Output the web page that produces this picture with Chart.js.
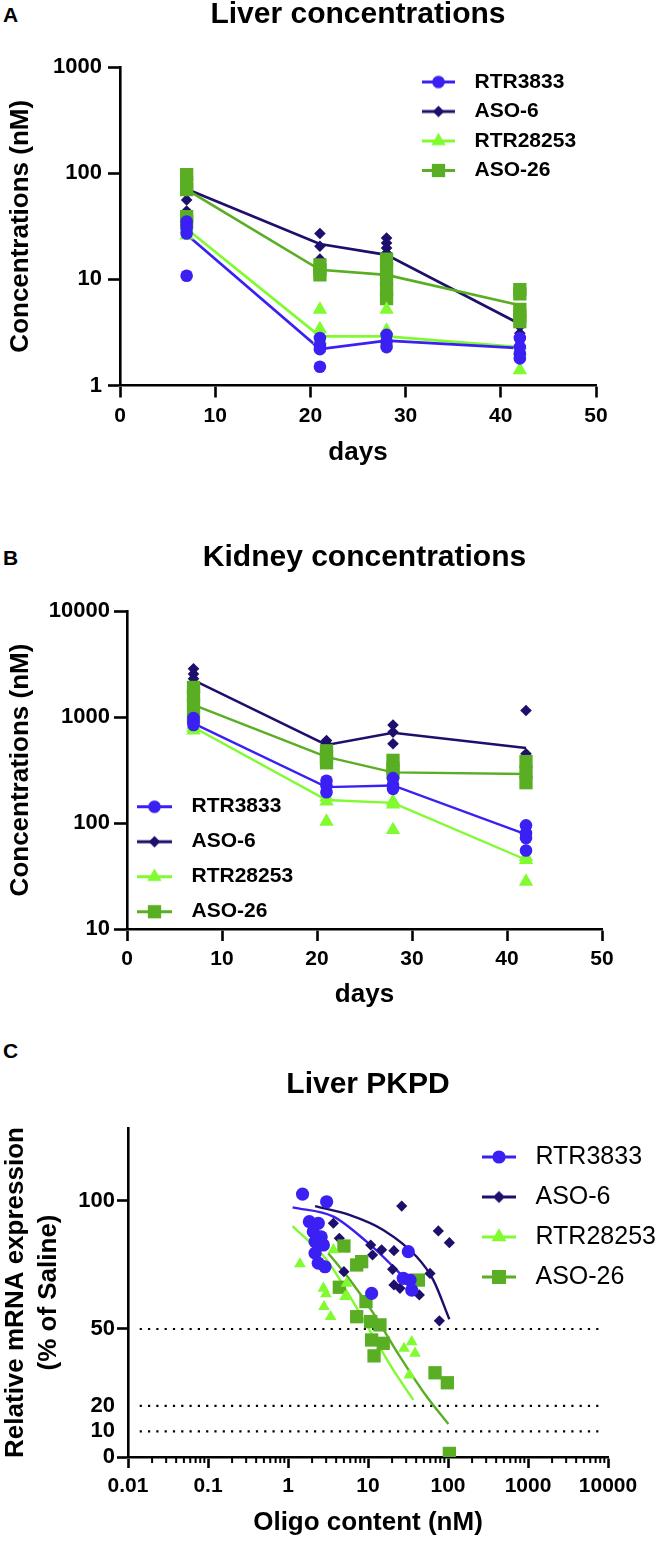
<!DOCTYPE html>
<html><head><meta charset="utf-8">
<script src="https://cdn.jsdelivr.net/npm/chart.js@4.4.1/dist/chart.umd.min.js"></script>
<style>
html,body{margin:0;padding:0;background:#fff;width:660px;height:1542px;overflow:hidden;position:relative;}
canvas{position:absolute;left:0;}
.lbl{position:absolute;font-family:'Liberation Sans',Arial,sans-serif;font-weight:bold;font-size:21px;line-height:24px;color:#000;}
</style></head><body>
<div class="lbl" style="left:3px;top:3px">A</div>
<div class="lbl" style="left:3px;top:546px">B</div>
<div class="lbl" style="left:3px;top:1039px">C</div>
<canvas id="cA" width="660" height="490" style="top:0px"></canvas>
<canvas id="cB" width="660" height="500" style="top:520px"></canvas>
<canvas id="cC" width="660" height="502" style="top:1040px"></canvas>
<script>
// ---------------- DATA ----------------
const days = [7, 21, 28, 42];
const seriesNames = ['RTR3833', 'ASO-6', 'RTR28253', 'ASO-26'];

// Panel A - Liver concentrations (nM), individual animals per day
const liverRTR3833 = [[35, 32, 30, 27, 10.8], [2.8, 2.4, 2.2, 1.5], [3.0, 2.6, 2.3], [2.8, 2.3, 2.0, 1.8]];
const liverASO6 = [[90, 71, 56, 44], [27, 20.5, 15.5], [24.5, 22, 19.7, 17.7], [4.2, 3.6, 3.1]];
const liverRTR28253 = [[33, 30, 26], [5.2, 3.4, 2.7], [5.2, 3.3, 2.6], [2.4, 2.1, 1.4]];
const liverASO26 = [[97, 81, 70, 39, 35], [13.7, 12.3, 11], [15.5, 12.5, 10, 8, 6.6], [8, 7.3, 5.2, 4.5, 4]];
// mean lines
const liverRTR3833Mean = [26.5, 2.2, 2.65, 2.25];
const liverASO6Mean = [71, 21.5, 17, 3.8];
const liverRTR28253Mean = [30, 2.9, 2.9, 2.3];
const liverASO26Mean = [70, 12.3, 11, 5.7];

// Panel B - Kidney concentrations (nM)
const kidneyRTR3833 = [[980, 900, 840], [250, 225, 195], [265, 230, 210], [95, 80, 72, 55]];
const kidneyASO6 = [[2850, 2550, 2300], [600, 560, 530], [840, 720, 560], [1150, 450]];
const kidneyRTR28253 = [[840, 790, 750], [175, 160, 103], [160, 150, 86], [48, 45, 28]];
const kidneyASO26 = [[1900, 1600, 1300, 1000], [480, 420, 370], [390, 330, 300], [380, 300, 240]];
const kidneyRTR3833Mean = [870, 218, 226, 78];
const kidneyASO6Mean = [2230, 545, 710, 510];
const kidneyRTR28253Mean = [800, 165, 155, 45];
const kidneyASO26Mean = [1300, 420, 300, 290];

// Panel C - Liver PKPD: [oligo content nM, relative mRNA %]
const pkRTR3833 = [[1.52,102.7],[3.04,99.7],[1.85,91.9],[2.39,91.3],[2.07,88],[2.6,86],[2.18,84.1],[2.77,82.8],[2.18,79.6],[2.39,75.7],[2.9,74.3],[11.1,63.9],[31.9,80.2],[27.6,69.8],[33.5,69.1],[35.2,65.2]];
const pkASO6 = [[26.4,98],[75.7,88.3],[104,83.7],[3.69,91.3],[2.18,86.1],[4.38,85.4],[10.8,82.8],[14.8,80.9],[11.4,78.9],[21.1,80.6],[5.0,72.4],[20.3,73.3],[27.1,69.8],[21.1,67.2],[25.1,65.9],[43.8,63.3],[59.6,71.7],[78,53.2]];
const pkRTR28253 = [[1.41,75.4],[2.77,65.9],[2.98,63.7],[2.82,58.7],[3.41,54.8],[5.41,67.8],[5.16,62.6],[3.69,80.9],[35.2,45],[28.2,42.4],[38.7,40.5],[32.9,32]];
const pkASO26 = [[5.0,82.4],[4.38,66.3],[7.22,75],[8.33,76.3],[9.44,60.7],[7.22,54.8],[10.8,52.9],[14.1,51.6],[11.1,45.7],[15.5,44.4],[11.9,39.5],[42.6,69.1],[68.8,32.9],[98.1,29],[104,1.4]];
// fitted curves
const fitRTR3833 = [[1.14,97.5],[3.69,93.9],[9.6,84.1],[20.7,74.3],[36.9,65.9],[42,63.5]];
const fitASO6 = [[2.18,98],[5.96,94.5],[15.5,88.7],[40.6,78.2],[65.6,69.1],[104,53.8]];
const fitRTR28253 = [[1.14,90.2],[3.04,77],[5.96,62.6],[11.7,47],[20.7,34],[36.9,22.3]];
const fitASO26 = [[3.19,79.6],[5.96,69.1],[11.7,56.1],[25.1,39.2],[54.1,23.6],[101,12.9]];
const refLevels = [50, 20, 10];
const refSpan = [0.014, 8900];

// tick labels
const yTicksA = [1, 10, 100, 1000];
const yTicksB = [10, 100, 1000, 10000];
const xTicksC = [0.01, 0.1, 1, 10, 100, 1000, 10000];
const xTickLabelsC = ['0.01', '0.1', '1', '10', '100', '1000', '10000'];
const yTicksC = [0, 10, 20, 50, 100];

// ---------------- STYLE ----------------
const FONT = "'Liberation Sans', Arial, Helvetica, sans-serif";
Chart.defaults.font.family = FONT;
Chart.defaults.color = '#000';
const COL = { 'RTR3833': '#3a20f2', 'ASO-6': '#1d0f6b', 'RTR28253': '#80fb30', 'ASO-26': '#5aae23' };
const SHAPE = { 'RTR3833': 'circle', 'ASO-6': 'rectRot', 'RTR28253': 'triangle', 'ASO-26': 'rect' };
const RAD = { 'RTR3833': 6.3, 'ASO-6': 5.8, 'RTR28253': 8.3, 'ASO-26': 9.4 };
const DRAW_ORDER = { 'RTR3833': 1, 'RTR28253': 2, 'ASO-26': 3, 'ASO-6': 4 };

function makeIcon(name, scale, lineLen, W, lw) {
  const r = RAD[name] * scale;
  const h = Math.ceil(2 * r + 6);
  const c = document.createElement('canvas');
  c.width = W; c.height = h;
  const g = c.getContext('2d');
  const cy = h / 2, cx = lineLen / 2, col = COL[name];
  g.strokeStyle = col; g.lineWidth = lw;
  g.beginPath(); g.moveTo(0, cy); g.lineTo(lineLen, cy); g.stroke();
  g.fillStyle = col; g.beginPath();
  const s = SHAPE[name];
  if (s === 'circle') g.arc(cx, cy, r, 0, Math.PI * 2);
  else if (s === 'rectRot') { g.moveTo(cx - r, cy); g.lineTo(cx, cy - r); g.lineTo(cx + r, cy); g.lineTo(cx, cy + r); }
  else if (s === 'triangle') { g.moveTo(cx, cy - r); g.lineTo(cx + r * 0.866, cy + r * 0.5); g.lineTo(cx - r * 0.866, cy + r * 0.5); }
  else { const q = r * 0.707; g.rect(cx - q, cy - q, 2 * q, 2 * q); }
  g.closePath(); g.fill();
  return c;
}

const placeLegend = {
  id: 'placeLegend',
  afterLayout(chart, args, o) {
    const lg = chart.legend;
    if (!lg || !o || o.x === undefined) return;
    const pad = lg.options.labels.padding;
    const fs = lg.options.labels.font.size;
    lg.left = o.x - pad;
    lg.top = o.y - pad - fs / 2;
    lg.right = lg.left + 330; lg.bottom = lg.top + 260;
  }
};

function legendOpts(fontSize, bold, pad, lineLen, W, lw, iconScale) {
  const icons = {};
  seriesNames.forEach(n => icons[n] = makeIcon(n, iconScale, lineLen, W, lw));
  return {
    display: true,
    position: 'chartArea',
    align: 'start',
    labels: {
      usePointStyle: true,
      pointStyleWidth: W,
      padding: pad,
      font: { size: fontSize, weight: bold ? 'bold' : 'normal', family: FONT },
      color: '#000',
      generateLabels: () => seriesNames.map((n, i) => ({
        text: n, pointStyle: icons[n], fillStyle: 'rgba(0,0,0,0)', strokeStyle: 'rgba(0,0,0,0)',
        lineWidth: 0, hidden: false, datasetIndex: i, fontColor: '#000'
      }))
    }
  };
}

function concDatasets(pointSets, meanSets, lineW) {
  const ds = [];
  seriesNames.forEach((n, i) => {
    const pts = [];
    pointSets[i].forEach((vals, j) => vals.forEach(v => pts.push({ x: days[j], y: v })));
    ds.push({
      label: n, data: pts, showLine: false, pointStyle: SHAPE[n], pointRadius: RAD[n],
      pointBackgroundColor: COL[n], pointBorderWidth: 0, pointBorderColor: COL[n], order: DRAW_ORDER[n]
    });
    ds.push({
      label: n + ' mean', data: meanSets[i].map((v, j) => ({ x: days[j], y: v })), showLine: true,
      borderColor: COL[n], borderWidth: lineW, pointRadius: 0, fill: false, order: 10 + DRAW_ORDER[n]
    });
  });
  return ds;
}

const AXIS_W = 2.6;
function concChart(id, cfg) {
  return new Chart(document.getElementById(id), {
    type: 'scatter',
    data: { datasets: concDatasets(cfg.points, cfg.means, cfg.lineW) },
    plugins: [placeLegend],
    options: {
      responsive: false, animation: false, devicePixelRatio: 1,
      layout: { padding: { left: 0, right: cfg.padR, top: 0, bottom: 0 } },
      plugins: {
        tooltip: { enabled: false },
        title: { display: true, text: cfg.title, fullSize: false, font: { size: 30, weight: 'bold', lineHeight: 1 },
                 color: '#000', padding: { top: cfg.titleTop, bottom: cfg.titleBottom } },
        legend: legendOpts(21, true, cfg.legPad, cfg.legLine, cfg.legW, 3, 1),
        placeLegend: { x: cfg.legX, y: cfg.legY }
      },
      scales: {
        x: {
          type: 'linear', min: 0, max: 50,
          ticks: { stepSize: 10, font: { size: 21, weight: 'bold' }, color: '#000', padding: 6, maxRotation: 0 },
          grid: { drawOnChartArea: false, drawTicks: true, tickLength: 12, tickWidth: AXIS_W, tickColor: '#000' },
          border: { display: true, color: '#000', width: AXIS_W },
          title: { display: true, text: 'days', font: { size: 26, weight: 'bold', lineHeight: 1.2 }, color: '#000', padding: { top: 0, bottom: cfg.xTitlePadB } },
          afterFit(s) { s.height = cfg.xH; s.paddingLeft = 0; s.paddingRight = 0; }
        },
        y: {
          type: 'logarithmic', min: cfg.yTicks[0], max: cfg.yTicks[cfg.yTicks.length - 1],
          afterBuildTicks(s) { s.ticks = cfg.yTicks.map(v => ({ value: v })); },
          ticks: { callback: v => String(v), autoSkip: false, font: { size: 22, weight: 'bold' }, color: '#000', padding: cfg.yTickPad },
          grid: { drawOnChartArea: false, drawTicks: true, tickLength: cfg.yTickLen, tickWidth: AXIS_W, tickColor: '#000' },
          border: { display: true, color: '#000', width: AXIS_W },
          title: { display: true, text: 'Concentrations (nM)', font: { size: 26, weight: 'bold', lineHeight: 1.2 }, color: '#000', padding: { top: 5, bottom: 0 } },
          afterFit(s) { s.width = cfg.yW; s.paddingTop = 0; s.paddingBottom = 0; }
        }
      }
    }
  });
}

// Panel A
concChart('cA', {
  title: 'Liver concentrations',
  points: [liverRTR3833, liverASO6, liverRTR28253, liverASO26],
  means: [liverRTR3833Mean, liverASO6Mean, liverRTR28253Mean, liverASO26Mean],
  lineW: 2.7, padR: 64, titleTop: 0, titleBottom: 37, yW: 120, xH: 104.5, xTitlePadB: 22,
  yTicks: yTicksA, yTickLen: 12, yTickPad: 6,
  legPad: 8.5, legLine: 33, legW: 42, legX: 422, legY: 82
});

// Panel B (canvas top 520)
concChart('cB', {
  title: 'Kidney concentrations',
  points: [kidneyRTR3833, kidneyASO6, kidneyRTR28253, kidneyASO26],
  means: [kidneyRTR3833Mean, kidneyASO6Mean, kidneyRTR28253Mean, kidneyASO26Mean],
  lineW: 2.4, padR: 58, titleTop: 23, titleBottom: 38, yW: 127, xH: 91, xTitlePadB: 10,
  yTicks: yTicksB, yTickLen: 13, yTickPad: 4,
  legPad: 14, legLine: 35, legW: 44, legX: 137, legY: 806.7 - 520
});

// Panel C
(function () {
  const ds = [];
  const pkSets = { 'RTR3833': pkRTR3833, 'ASO-6': pkASO6, 'RTR28253': pkRTR28253, 'ASO-26': pkASO26 };
  const fitSets = { 'RTR3833': fitRTR3833, 'ASO-6': fitASO6, 'RTR28253': fitRTR28253, 'ASO-26': fitASO26 };
  const radC = { 'RTR3833': 6.6, 'ASO-6': 5.6, 'RTR28253': 6.8, 'ASO-26': 9.4 };
  seriesNames.forEach(n => {
    ds.push({
      label: n, data: pkSets[n].map(p => ({ x: p[0], y: p[1] })), showLine: false,
      pointStyle: SHAPE[n], pointRadius: radC[n], pointBackgroundColor: COL[n], pointBorderWidth: 0, order: DRAW_ORDER[n]
    });
    ds.push({
      label: n + ' fit', data: fitSets[n].map(p => ({ x: p[0], y: p[1] })), showLine: true,
      borderColor: COL[n], borderWidth: 2.4, pointRadius: 0, cubicInterpolationMode: 'monotone', order: 10 + DRAW_ORDER[n]
    });
  });
  refLevels.forEach(v => ds.push({
    label: 'ref ' + v, data: refSpan.map(x => ({ x: x, y: v })), showLine: true,
    borderColor: '#000', borderWidth: 2.2, borderDash: [2.2, 6.1], pointRadius: 0, order: 30
  }));

  const minorTicks = {
    id: 'minorTicks',
    afterDraw(chart) {
      const sx = chart.scales.x, ctx = chart.ctx, yb = chart.chartArea.bottom;
      ctx.save(); ctx.strokeStyle = '#000'; ctx.lineWidth = 2;
      for (let d = -2; d < 4; d++) {
        for (let k = 2; k <= 9; k++) {
          const px = sx.getPixelForValue(k * Math.pow(10, d));
          ctx.beginPath(); ctx.moveTo(px, yb); ctx.lineTo(px, yb + 6); ctx.stroke();
        }
      }
      ctx.restore();
    }
  };

  new Chart(document.getElementById('cC'), {
    type: 'scatter',
    data: { datasets: ds },
    plugins: [placeLegend, minorTicks],
    options: {
      responsive: false, animation: false, devicePixelRatio: 1,
      layout: { padding: { left: 0, right: 52, top: 0, bottom: 0 } },
      plugins: {
        tooltip: { enabled: false },
        title: { display: true, text: 'Liver PKPD', fullSize: false, font: { size: 30, weight: 'bold', lineHeight: 1 },
                 color: '#000', padding: { top: 30, bottom: 28 } },
        legend: legendOpts(25, false, 15, 34, 41, 3, 1.05),
        placeLegend: { x: 482, y: 1157 - 1040 }
      },
      scales: {
        x: {
          type: 'logarithmic', min: xTicksC[0], max: xTicksC[xTicksC.length - 1],
          afterBuildTicks(s) { s.ticks = xTicksC.map(v => ({ value: v })); },
          ticks: { callback: (v, i) => xTickLabelsC[i], autoSkip: false, font: { size: 21, weight: 'bold' }, color: '#000', padding: 6, maxRotation: 0 },
          grid: { drawOnChartArea: false, drawTicks: true, tickLength: 11, tickWidth: AXIS_W, tickColor: '#000' },
          border: { display: true, color: '#000', width: AXIS_W },
          title: { display: true, text: 'Oligo content (nM)', font: { size: 26, weight: 'bold', lineHeight: 1.2 }, color: '#000', padding: { top: 0, bottom: 4 } },
          afterFit(s) { s.height = 85; s.paddingLeft = 0; s.paddingRight = 0; }
        },
        y: {
          type: 'linear', min: 0, max: 128.5,
          afterBuildTicks(s) { s.ticks = yTicksC.map(v => ({ value: v })); },
          ticks: { callback: v => String(v), autoSkip: false, font: { size: 22, weight: 'bold' }, color: '#000', padding: 2 },
          grid: {
            drawOnChartArea: false, drawTicks: true, tickLength: 11, tickWidth: AXIS_W,
            tickColor: c => (c.tick && (c.tick.value === 10 || c.tick.value === 20)) ? 'rgba(0,0,0,0)' : '#000'
          },
          border: { display: true, color: '#000', width: AXIS_W },
          title: { display: true, text: ['Relative mRNA expression', '(% of Saline)'], font: { size: 26, weight: 'bold', lineHeight: 1.25 }, color: '#000', padding: { top: 0, bottom: 0 } },
          afterFit(s) { s.width = 128; s.paddingTop = 0; s.paddingBottom = 0; }
        }
      }
    }
  });
})();
</script>
</body></html>
